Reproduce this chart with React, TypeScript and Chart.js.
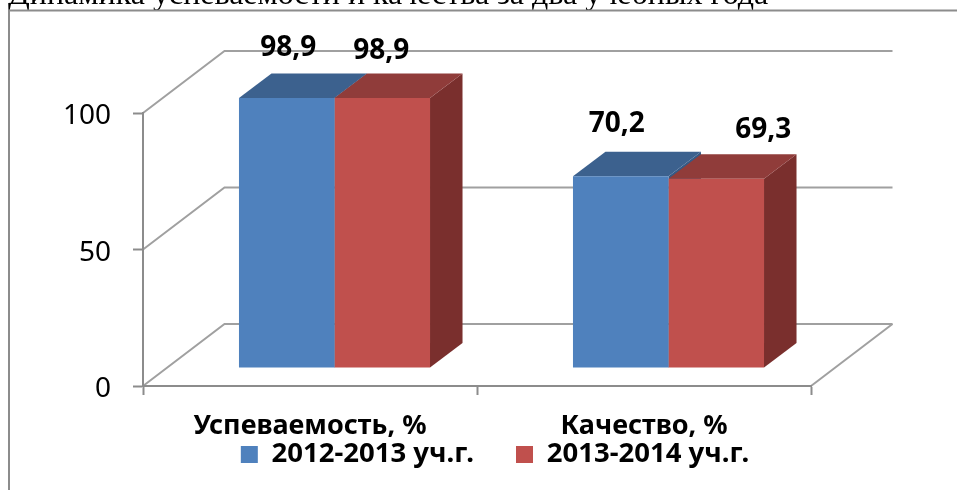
import { useEffect, useRef } from "react";
import { Chart, registerables } from "chart.js";

Chart.register(...registerables);

const categories = ["Успеваемость, %", "Качество, %"];
const series2012 = [98.9, 70.2];
const series2013 = [98.9, 69.3];
const seriesNames = ["2012-2013 уч.г.", "2013-2014 уч.г."];
const valueLabels = [["98,9", "70,2"], ["98,9", "69,3"]];
const titleText = "Динамика успеваемости и качества за два учебных года";

const GREY = "#8c8c8c";
const FRONT = ["#4f81bd", "#c0504d"];
const TOPS = ["#3c618e", "#903c3a"];
const SIDES = ["#355a86", "#7a2f2d"];
const FONT = "'Noto Sans', sans-serif";

// 3D projection: offset of back wall, bar placement on the floor, bar depth
const WALL = { dx: 81.5, dy: -62 };
const BAR_SHIFT = { dx: 24.5, dy: -18 };
const BAR_DEPTH = { dx: 32.5, dy: -24.5 };
// hand placed value labels, relative to the bar top centre
const LABEL_NUDGE = [
  [{ x: 1.5, y: -49.5 }, { x: -4, y: -52 }],
  [{ x: -1, y: -47 }, { x: 47, y: -48.5 }],
];
const LEGEND_FONT = 27.5;
const LEGEND_GAP = 42;
const LEGEND_CENTER_Y = 454.5;

const scene = {
  id: "scene",
  beforeDraw(chart: any) {
    const { ctx, scales } = chart;
    const x = scales.x;
    const y = scales.y;
    ctx.save();
    // clipped document caption above the chart frame
    ctx.fillStyle = "#000";
    ctx.font = "32px 'Liberation Serif', serif";
    ctx.textBaseline = "alphabetic";
    ctx.fillText(titleText, 8, 4);
    // chart frame
    ctx.strokeStyle = GREY;
    ctx.lineWidth = 2;
    ctx.beginPath();
    ctx.moveTo(9, 490);
    ctx.lineTo(9, 10.5);
    ctx.lineTo(957, 10.5);
    ctx.stroke();
    // side wall + back wall grid lines
    ctx.strokeStyle = "#a0a0a0";
    for (const tick of y.ticks) {
      const py = y.getPixelForValue(tick.value);
      ctx.beginPath();
      ctx.moveTo(x.left, py);
      ctx.lineTo(x.left + WALL.dx, py + WALL.dy);
      ctx.lineTo(x.right + WALL.dx, py + WALL.dy);
      ctx.stroke();
    }
    const py0 = y.getPixelForValue(0);
    ctx.beginPath();
    ctx.moveTo(x.right, py0);
    ctx.lineTo(x.right + WALL.dx, py0 + WALL.dy);
    ctx.stroke();
    ctx.restore();
  },
  beforeDatasetsDraw(chart: any) {
    const { ctx } = chart;
    ctx.save();
    ctx.translate(BAR_SHIFT.dx, BAR_SHIFT.dy);
    // depth faces first, left series then right, the flat fronts go on top
    [0, 1].forEach((i) => {
      for (const bar of chart.getDatasetMeta(i).data) {
        const p = bar.getProps(["x", "y", "base", "width"], true);
        const l = p.x - p.width / 2;
        const r = p.x + p.width / 2;
        ctx.fillStyle = SIDES[i];
        ctx.beginPath();
        ctx.moveTo(r, p.y);
        ctx.lineTo(r + BAR_DEPTH.dx, p.y + BAR_DEPTH.dy);
        ctx.lineTo(r + BAR_DEPTH.dx, p.base + BAR_DEPTH.dy);
        ctx.lineTo(r, p.base);
        ctx.closePath();
        ctx.fill();
        ctx.fillStyle = TOPS[i];
        ctx.beginPath();
        ctx.moveTo(l, p.y);
        ctx.lineTo(l + BAR_DEPTH.dx, p.y + BAR_DEPTH.dy);
        ctx.lineTo(r + BAR_DEPTH.dx, p.y + BAR_DEPTH.dy);
        ctx.lineTo(r, p.y);
        ctx.closePath();
        ctx.fill();
      }
    });
  },
  afterDatasetsDraw(chart: any) {
    const { ctx } = chart;
    ctx.restore();
    ctx.save();
    ctx.fillStyle = "#000";
    ctx.font = `bold 28px ${FONT}`;
    ctx.textAlign = "center";
    ctx.textBaseline = "middle";
    chart.getSortedVisibleDatasetMetas().forEach((meta: any) => {
      meta.data.forEach((bar: any, j: number) => {
        const n = LABEL_NUDGE[meta.index][j];
        const p = bar.getProps(["x", "y"], true);
        ctx.fillText(
          valueLabels[meta.index][j],
          p.x + BAR_SHIFT.dx + n.x,
          p.y + BAR_SHIFT.dy + n.y,
        );
      });
    });
    ctx.restore();
  },
  afterLayout(chart: any) {
    // centre the legend under the whole picture, not under the padded plot
    const legend = chart.legend;
    legend.left = 0;
    legend.right = 990;
    legend.top = LEGEND_CENTER_Y - LEGEND_FONT / 2 - LEGEND_GAP;
  },
};

export default function App() {
  const ref = useRef<HTMLCanvasElement>(null);
  useEffect(() => {
    const chart = new Chart(ref.current as HTMLCanvasElement, {
      type: "bar",
      data: {
        labels: categories,
        datasets: [
          {
            label: seriesNames[0],
            data: series2012,
            backgroundColor: FRONT[0],
            clip: false,
          },
          {
            label: seriesNames[1],
            data: series2013,
            backgroundColor: FRONT[1],
            clip: false,
          },
        ],
      } as any,
      options: {
        animation: false,
        responsive: false,
        categoryPercentage: 0.572,
        barPercentage: 1,
        layout: { padding: { top: 113, right: 146, left: 0, bottom: -28.5 } },
        plugins: {
          title: { display: false },
          tooltip: { enabled: false },
          legend: {
            position: "bottom",
            labels: {
              boxWidth: 17,
              boxHeight: 17,
              padding: LEGEND_GAP,
              color: "#000",
              font: { family: FONT, size: LEGEND_FONT, weight: "bold" },
            },
          },
        },
        scales: {
          x: {
            grid: {
              offset: true,
              drawOnChartArea: false,
              drawTicks: true,
              tickLength: 9,
              tickWidth: 2,
              tickColor: GREY,
            },
            border: { display: true, color: GREY, width: 2 },
            ticks: {
              color: "#000",
              padding: 15,
              maxRotation: 0,
              font: { family: FONT, size: 27, weight: "bold" },
            },
            afterFit: (s: any) => {
              s.height = 53;
            },
          },
          y: {
            min: 0,
            max: 100,
            grid: {
              drawOnChartArea: false,
              drawTicks: true,
              tickLength: 10,
              tickWidth: 2,
              tickColor: GREY,
            },
            border: { display: true, color: GREY, width: 2 },
            ticks: {
              stepSize: 50,
              color: "#000",
              padding: 22,
              labelOffset: 3.5,
              font: { family: FONT, size: 28 },
            },
            afterFit: (s: any) => {
              s.width = 143;
            },
          },
        },
      } as any,
      plugins: [scene],
    });
    return () => chart.destroy();
  }, []);
  return (
    <div style={{ position: "fixed", left: 0, top: 0, width: 957, height: 490, overflow: "hidden", background: "#fff" }}>
      <canvas ref={ref} width={957} height={490} style={{ display: "block" }} />
    </div>
  );
}
